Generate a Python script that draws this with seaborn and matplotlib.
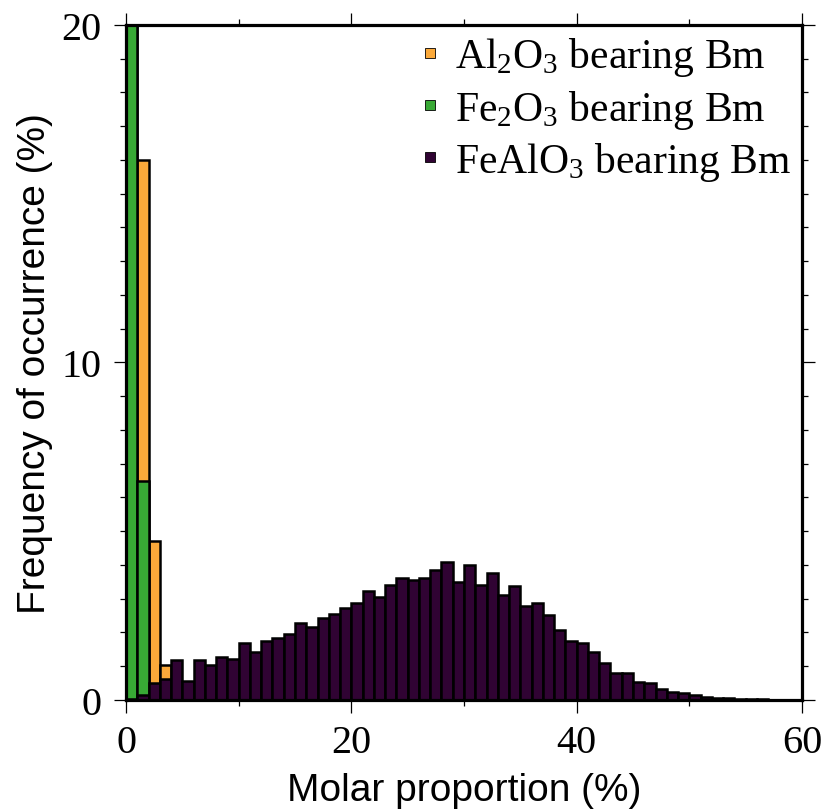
import numpy as np
import pandas as pd
import matplotlib
matplotlib.use("Agg")
import matplotlib.pyplot as plt
from matplotlib.lines import Line2D
from matplotlib.ticker import MultipleLocator
import seaborn as sns

# ---- data (bin width 1 %, bins 0..60) ----
bin_edges = list(range(0, 61))
al2o3_freq = [78.0, 16.0, 4.7, 1.05]  # bins 0-3, rest zero
fe2o3_freq = [93.5, 6.5]              # bins 0-1
fealo3_freq = [0.04, 0.15, 0.51, 0.61, 1.18, 0.56, 1.18, 1.03, 1.26, 1.20,
               1.69, 1.43, 1.76, 1.83, 1.96, 2.29, 2.15, 2.44, 2.55, 2.74,
               2.87, 3.24, 3.06, 3.42, 3.60, 3.56, 3.60, 3.85, 4.08, 3.51,
               4.01, 3.41, 3.75, 3.12, 3.38, 2.79, 2.87, 2.52, 2.07, 1.74,
               1.68, 1.41, 1.10, 0.81, 0.79, 0.53, 0.50, 0.32, 0.23, 0.21,
               0.15, 0.09, 0.07, 0.06, 0.04, 0.03, 0.02, 0.01, 0.01, 0.005]
labels = ["Al$_2$O$_3$ bearing Bm", "Fe$_2$O$_3$ bearing Bm", "FeAlO$_3$ bearing Bm"]
colors = ["#FBA93A", "#38A935", "#300333"]

sns.set_style("ticks")
plt.rcParams["font.family"] = ["Liberation Serif", "DejaVu Serif"]
plt.rcParams["mathtext.default"] = "regular"
for k in ["text.color", "axes.labelcolor", "xtick.color", "ytick.color"]:
    plt.rcParams[k] = "black"

fig = plt.figure(figsize=(8.27, 8.12), dpi=100)
ax = fig.add_axes([0.1524, 0.1367, 0.8174, 0.8313])

centers = [e + 0.5 for e in bin_edges[:-1]]
series = [al2o3_freq, fe2o3_freq, fealo3_freq]
for vals, col in zip(series, colors):
    w = list(vals) + [0.0] * (len(centers) - len(vals))
    df = pd.DataFrame({"x": centers, "w": w})
    sns.histplot(data=df, x="x", weights="w", bins=bin_edges, color=col, alpha=1,
                 edgecolor="black", linewidth=1.8, ax=ax)

ax.set_xlim(0, 60)
ax.set_ylim(0, 20)
ax.set_xticks([0, 20, 40, 60])
ax.xaxis.set_minor_locator(MultipleLocator(10))
ax.set_yticks([0, 10, 20])
ax.yaxis.set_minor_locator(MultipleLocator(1))
for s in ax.spines.values():
    s.set_linewidth(2.3)
    s.set_color("black")
    s.set_zorder(10)
ax.tick_params(which="major", direction="out", length=9, width=0.9,
               top=True, right=True, labelsize=29, pad=8, colors="black")
ax.tick_params(which="minor", direction="out", length=4.5, width=0.9,
               top=True, right=True, colors="black")
ax.tick_params(axis="y", which="major", pad=9)

sans = ["Liberation Sans", "DejaVu Sans"]
ax.set_xlabel("Molar proportion (%)", family=sans, fontsize=28, labelpad=8)
ax.set_ylabel("Frequency of occurrence (%)", family=sans, fontsize=28, labelpad=6)

handles = [Line2D([], [], marker="s", linestyle="none", markersize=7.5,
                  markerfacecolor=c, markeredgecolor="black", markeredgewidth=0.6)
           for c in colors]
ax.legend(handles, labels, loc="upper right", frameon=False, fontsize=30,
          handlelength=0.6, handletextpad=0.3, labelspacing=0.22,
          borderaxespad=0.2, borderpad=0.05)

fig.savefig("out.png", dpi=100)
